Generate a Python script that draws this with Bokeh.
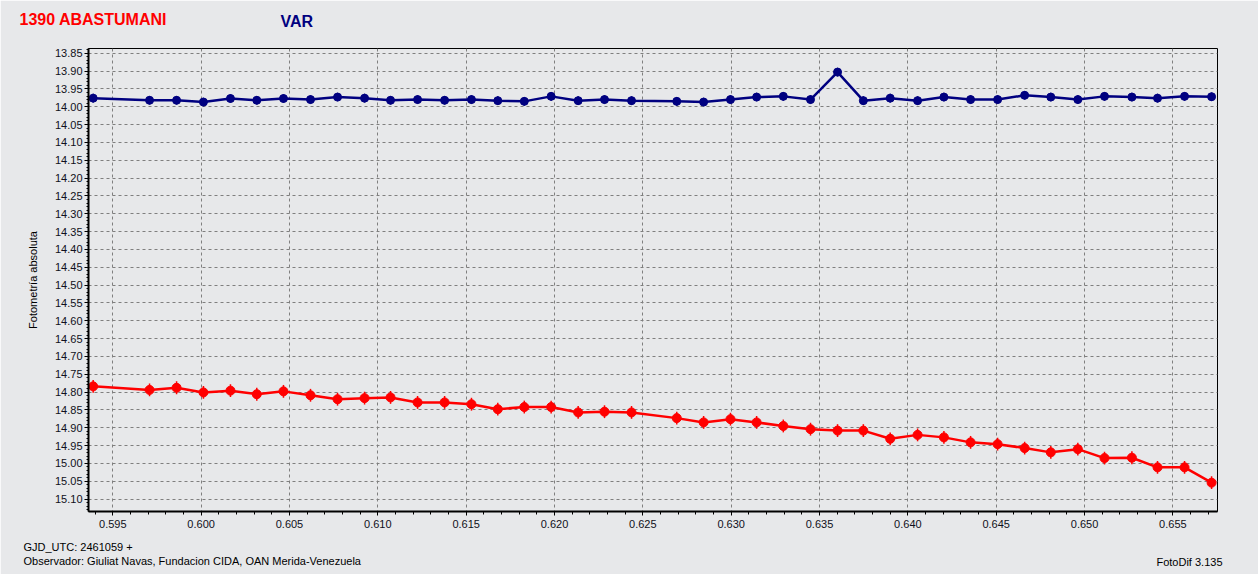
import numpy as np
from bokeh.plotting import figure
from bokeh.models import Range1d, FixedTicker, Label, PrintfTickFormatter
from bokeh.embed import file_html
from bokeh.resources import INLINE

# ---- data ----
gjd = [0.59389, 0.59708, 0.59861, 0.60013, 0.60166, 0.60315, 0.60466, 0.60619,
       0.60772, 0.60925, 0.61072, 0.61225, 0.61378, 0.61530, 0.61679, 0.61829,
       0.61981, 0.62134, 0.62283, 0.62436, 0.62692, 0.62844, 0.62996, 0.63144,
       0.63295, 0.63449, 0.63602, 0.63748, 0.63900, 0.64055, 0.64204, 0.64355,
       0.64508, 0.64661, 0.64809, 0.64962, 0.65113, 0.65268, 0.65413, 0.65566,
       0.65719]
var_mag = [13.976, 13.982, 13.982, 13.987, 13.977, 13.982, 13.977, 13.980,
           13.973, 13.976, 13.982, 13.980, 13.982, 13.980, 13.983, 13.985,
           13.971, 13.983, 13.980, 13.983, 13.985, 13.987, 13.980, 13.973,
           13.971, 13.980, 13.903, 13.983, 13.976, 13.983, 13.973, 13.980,
           13.980, 13.968, 13.973, 13.980, 13.971, 13.973, 13.976, 13.971,
           13.972]
ast_mag = [14.784, 14.794, 14.788, 14.801, 14.796, 14.806, 14.798, 14.809,
           14.820, 14.817, 14.815, 14.829, 14.829, 14.834, 14.848, 14.842,
           14.842, 14.857, 14.855, 14.857, 14.873, 14.885, 14.876, 14.885,
           14.895, 14.904, 14.908, 14.908, 14.931, 14.920, 14.927, 14.941,
           14.946, 14.957, 14.969, 14.960, 14.985, 14.984, 15.011, 15.011,
           15.054]
var_err = 0.012
ast_err = 0.018

y_ticks = [13.85, 13.90, 13.95, 14.00, 14.05, 14.10, 14.15, 14.20, 14.25, 14.30,
           14.35, 14.40, 14.45, 14.50, 14.55, 14.60, 14.65, 14.70, 14.75, 14.80,
           14.85, 14.90, 14.95, 15.00, 15.05, 15.10]
x_ticks = [0.595, 0.600, 0.605, 0.610, 0.615, 0.620, 0.625, 0.630, 0.635,
           0.640, 0.645, 0.650, 0.655]

title_ast = "1390 ABASTUMANI"
title_var = "VAR"
y_label = "Fotometría absoluta"
foot_jd = "GJD_UTC: 2461059 +"
foot_obs = "Observador: Giuliat Navas, Fundacion CIDA, OAN  Merida-Venezuela"
foot_sw = "FotoDif 3.135"

BG = "#e7e8ea"
FONT = "Liberation Sans"

p = figure(frame_width=1129, frame_height=463,
           min_border_left=88, min_border_right=41,
           min_border_top=48, min_border_bottom=63,
           x_range=Range1d(0.593625, 0.657525),
           y_range=Range1d(15.1348, 13.8368),
           output_backend="svg", toolbar_location=None, tools="")
p.background_fill_color = BG
p.border_fill_color = BG
p.outline_line_color = "black"
p.outline_line_width = 1

# axes
p.yaxis.ticker = FixedTicker(ticks=y_ticks,
                             minor_ticks=[round(13.84 + 0.01 * i, 2) for i in range(130)])
p.yaxis.formatter = PrintfTickFormatter(format="%.2f")
p.xaxis.ticker = FixedTicker(ticks=x_ticks,
                             minor_ticks=[round(0.594 + 0.001 * i, 3) for i in range(64)])
p.xaxis.formatter = PrintfTickFormatter(format="%.3f")
for ax in (p.xaxis, p.yaxis):
    ax.axis_line_color = "black"
    ax.axis_line_width = 2
    ax.major_tick_line_color = "black"
    ax.minor_tick_line_color = "black"
    ax.major_tick_in = 0
    ax.major_tick_out = 4
    ax.minor_tick_in = 0
    ax.minor_tick_out = 2
    ax.major_label_text_font = FONT
    ax.major_label_text_font_size = "11px"
    ax.major_label_text_color = "#101020"
p.yaxis.major_label_standoff = 2
p.xaxis.major_label_standoff = 4
p.xaxis.minor_tick_out = 3
p.yaxis.axis_label = y_label
p.yaxis.axis_label_text_font = FONT
p.yaxis.axis_label_text_font_size = "11px"
p.yaxis.axis_label_text_font_style = "normal"
p.yaxis.axis_label_text_color = "black"
p.yaxis.axis_label_standoff = 13

for g in (p.xgrid, p.ygrid):
    g.grid_line_color = "#7f7f7f"
    g.grid_line_dash = "3 3"
    g.grid_line_width = 1

x = np.array(gjd)
yv = np.array(var_mag)
ya = np.array(ast_mag)

# VAR series
p.line(x, yv, line_color="#000080", line_width=2.5)
p.segment(x, yv - var_err, x, yv + var_err, line_color="#000080", line_width=1.5)
p.scatter(x, yv, marker="circle", size=8, fill_color="#000080", line_color="#000080")

# asteroid series
p.line(x, ya, line_color="#ff0000", line_width=2.5)
p.segment(x, ya - ast_err, x, ya + ast_err, line_color="#ff0000", line_width=1.5)
p.scatter(x, ya, marker="circle", size=9, fill_color="#ff0000", line_color="#ff0000")

# texts placed in the side panels (not clipped by the frame)
def add_label(place, text, xs, ys, size, color, style="normal", align="left"):
    p.add_layout(Label(x=xs, y=ys, x_units="screen", y_units="screen", text=text,
                       text_font=FONT, text_font_size=size, text_color=color,
                       text_font_style=style, text_align=align,
                       text_baseline="middle"), place)

add_label("above", title_ast, -69, 29, "16px", "#ff0000", "bold")
add_label("above", title_var, 192, 10, "16px", "#000080", "bold")
add_label("below", foot_jd, -65, -4, "11px", "black")
add_label("below", foot_obs, -65, -6, "11px", "black")
add_label("below", foot_sw, 1134, 5, "11px", "black", align="right")

open("out.html", "w").write(file_html(p, INLINE))
